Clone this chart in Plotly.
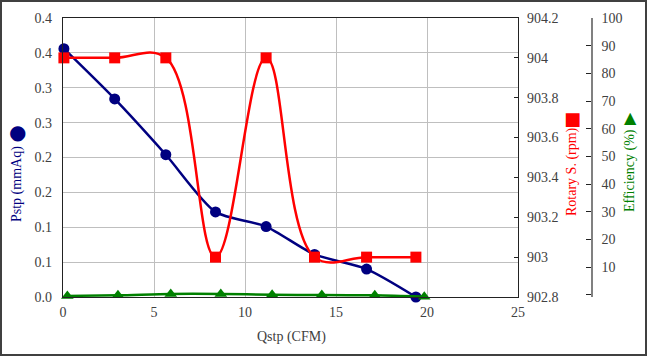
import plotly.graph_objects as go

# ---- data ----
q_main = [0.05, 2.84, 5.65, 8.38, 11.16, 13.82, 16.68, 19.39]
pstp = [0.356, 0.284, 0.204, 0.122, 0.101, 0.061, 0.040, 0.0]
rotary = [904, 904, 904, 903, 904, 903, 903, 903]
q_eff = [0.24, 3.02, 5.92, 8.67, 11.49, 14.22, 17.13, 19.85]
efficiency = [-0.4, -0.2, 0.3, 0.3, 0.0, -0.1, -0.2, -0.7]

x_ticks = [0, 5, 10, 15, 20, 25]
p_tickvals = [0, 0.05, 0.10, 0.15, 0.20, 0.25, 0.30, 0.35, 0.40]
p_ticktext = ["0.0", "0.1", "0.1", "0.2", "0.2", "0.3", "0.3", "0.4", "0.4"]
r_tickvals = [902.8, 903.0, 903.2, 903.4, 903.6, 903.8, 904.0, 904.2]
r_ticktext = ["902.8", "903", "903.2", "903.4", "903.6", "903.8", "904", "904.2"]
e_tickvals = [0, 10, 20, 30, 40, 50, 60, 70, 80, 90, 100]
e_ticktext = ["", "10", "20", "30", "40", "50", "60", "70", "80", "90", "100"]

FONT = "Liberation Serif, Times New Roman, serif"
TICKC = "#404040"
NAVY = "#000080"
RED = "#ff0000"
GREEN = "#008000"

W, H = 647, 356
ML, MR, MT, MB = 63, 40, 18, 59
PW = W - ML - MR
PH = H - MT - MB


def px(x):
    return (x - ML) / PW


def py(y):
    return (H - MB - y) / PH


fig = go.Figure()
fig.add_trace(go.Scatter(
    x=q_main, y=pstp, mode="lines+markers", yaxis="y",
    line=dict(color=NAVY, width=2.5, shape="spline", smoothing=0.7),
    marker=dict(symbol="circle", size=11, color=NAVY),
    cliponaxis=False, showlegend=False))
fig.add_trace(go.Scatter(
    x=q_main, y=rotary, mode="lines+markers", yaxis="y2",
    line=dict(color=RED, width=2.5, shape="spline", smoothing=1.1),
    marker=dict(symbol="square", size=11, color=RED),
    cliponaxis=False, showlegend=False))
fig.add_trace(go.Scatter(
    x=q_eff, y=efficiency, mode="lines+markers", yaxis="y3",
    line=dict(color=GREEN, width=2.5, shape="spline", smoothing=0.8),
    marker=dict(symbol="triangle-up", size=11, color=GREEN),
    cliponaxis=False, showlegend=False))

tickfont = dict(family=FONT, size=14, color=TICKC)

fig.update_layout(
    width=W, height=H,
    margin=dict(l=ML, r=MR, t=MT, b=MB),
    paper_bgcolor="white", plot_bgcolor="white",
    font=dict(family=FONT, size=14, color=TICKC),
    xaxis=dict(domain=[0, px(518)], range=[0, 25], tickvals=x_ticks,
               showgrid=True, gridcolor="#bfbfbf", gridwidth=1,
               showline=True, linecolor="#222222", linewidth=1.3, mirror=True,
               ticks="", tickfont=tickfont, zeroline=False, ticklabelstandoff=2),
    yaxis=dict(range=[0, 0.4], tickvals=p_tickvals, ticktext=p_ticktext,
               showgrid=True, gridcolor="#bfbfbf", gridwidth=1,
               showline=True, linecolor="#222222", linewidth=1.3, mirror=True,
               ticks="", tickfont=tickfont, zeroline=False, ticklabelstandoff=7),
    yaxis2=dict(overlaying="y", side="right", anchor="x",
                range=[902.8, 904.2], tickvals=r_tickvals, ticktext=r_ticktext,
                showgrid=False, zeroline=False, showline=False,
                ticks="inside", ticklen=4, tickcolor="#222222",
                tickfont=tickfont, ticklabelstandoff=8),
    yaxis3=dict(overlaying="y", side="right", anchor="free", position=px(592),
                range=[-0.8, 100], tickvals=e_tickvals, ticktext=e_ticktext,
                showgrid=False, zeroline=False,
                showline=True, linecolor="#808080", linewidth=1.5,
                ticks="inside", ticklen=5, tickcolor="#222222",
                tickfont=tickfont, ticklabelstandoff=6),
)


def a(text, x, y, color, size=14, angle=0, family=FONT):
    return dict(text=text, x=px(x), y=py(y), xref="paper", yref="paper",
                xanchor="center", yanchor="middle", textangle=angle,
                showarrow=False, font=dict(family=family, size=size, color=color))


ann = [
    a("Qstp (CFM)", 291, 337, TICKC),
    a("Pstp (mmAq)", 17, 184, NAVY, angle=-90),
    a("●", 17, 132, NAVY, size=20, family="DejaVu Sans"),
    a("Rotary S. (rpm)", 572, 172, RED, angle=-90),
    a("■", 572, 118, RED, size=18, family="DejaVu Sans"),
    a("Efficiency (%)", 630, 171, GREEN, angle=-90),
    a("▲", 630, 117, GREEN, size=16, family="DejaVu Sans"),
]
fig.update_layout(annotations=ann)

fig.add_shape(type="rect", xref="paper", yref="paper",
              x0=px(1), x1=px(646), y0=py(355), y1=py(1),
              line=dict(color="#404040", width=2), fillcolor="rgba(0,0,0,0)", layer="above")

fig.write_html("out.html", config={"displayModeBar": False},
               post_script="document.body.style.margin='0';document.body.style.padding='0';")
